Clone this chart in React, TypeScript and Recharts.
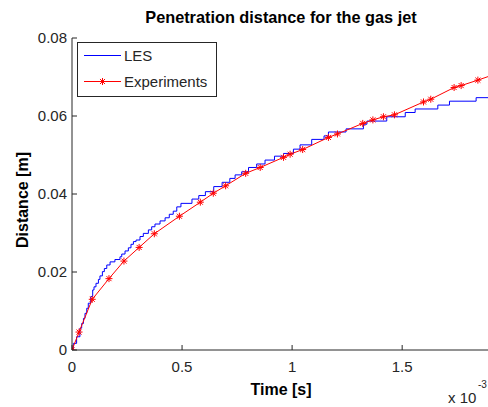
import React from "react";
import { LineChart, Line, XAxis, YAxis } from "recharts";

// time in units of 1e-3 s (axis shows "x 10^-3"), distance in m
const lesTime = [
  0, 0.006, 0.021, 0.036, 0.044, 0.052, 0.059, 0.067, 0.074, 0.085, 0.094, 0.1,
  0.109, 0.12, 0.127, 0.138, 0.147, 0.158, 0.173, 0.195, 0.218, 0.226, 0.241,
  0.256, 0.268, 0.279, 0.291, 0.309, 0.324, 0.347, 0.362, 0.377, 0.4, 0.423,
  0.442, 0.46, 0.476, 0.495, 0.545, 0.576, 0.606, 0.644, 0.682, 0.717, 0.741,
  0.771, 0.802, 0.839, 0.877, 0.92, 0.961, 1.006, 1.036, 1.089, 1.145, 1.165,
  1.245, 1.324, 1.34, 1.43, 1.514, 1.559, 1.662, 1.715, 1.836, 1.89,
];
const lesDist = [
  0, 0.0017, 0.0034, 0.0056, 0.0068, 0.0081, 0.0094, 0.0107, 0.012, 0.0137,
  0.0154, 0.0162, 0.0171, 0.0181, 0.019, 0.0201, 0.0209, 0.0218, 0.0226, 0.0232,
  0.0239, 0.0246, 0.0254, 0.0262, 0.0271, 0.0278, 0.0282, 0.0291, 0.0299,
  0.0308, 0.0316, 0.0323, 0.0331, 0.0339, 0.0348, 0.0356, 0.0367, 0.0376,
  0.0387, 0.0396, 0.0406, 0.0419, 0.043, 0.044, 0.0449, 0.0457, 0.0468, 0.0477,
  0.0487, 0.0497, 0.0504, 0.0515, 0.0526, 0.054, 0.0549, 0.0559, 0.0567, 0.0579,
  0.0587, 0.0598, 0.0609, 0.0618, 0.0628, 0.0638, 0.0647, 0.0647,
];

const expTime = [
  0, 0.032, 0.092, 0.168, 0.236, 0.305, 0.374, 0.488, 0.583, 0.642, 0.698,
  0.789, 0.855, 0.961, 0.991, 1.048, 1.165, 1.206, 1.321, 1.367, 1.415, 1.465,
  1.597, 1.63, 1.736, 1.768, 1.844, 1.89,
];
const expDist = [
  0, 0.0046, 0.013, 0.0183, 0.0228, 0.0263, 0.0298, 0.0343, 0.0379, 0.0402,
  0.0421, 0.0453, 0.0468, 0.0494, 0.0502, 0.0514, 0.0545, 0.0554, 0.0581, 0.059,
  0.0598, 0.0603, 0.0636, 0.0643, 0.0673, 0.0678, 0.0692, 0.0701,
];
// last experiment sample sits on the clipped right edge, no marker there
const expMarked = expTime.length - 1;

const xTicks = [0, 0.5, 1, 1.5];
const xTickLabels = ["0", "0.5", "1", "1.5"];
const yTicks = [0, 0.02, 0.04, 0.06, 0.08];
const yTickLabels = ["0", "0.02", "0.04", "0.06", "0.08"];

const lesData = lesTime.map((t, i) => ({ t, d: lesDist[i] }));
const expData = expTime.map((t, i) => ({ t, d: expDist[i] }));

const FONT = "'Liberation Sans', Arial, Helvetica, sans-serif";
const INK = "#262626";

function Asterisk({ cx, cy, r = 3.5 }: { cx: number; cy: number; r?: number }) {
  const d = r * 0.72;
  return (
    <g stroke="#ff0000" strokeWidth={1}>
      <line x1={cx - r} y1={cy} x2={cx + r} y2={cy} />
      <line x1={cx} y1={cy - r} x2={cx} y2={cy + r} />
      <line x1={cx - d} y1={cy - d} x2={cx + d} y2={cy + d} />
      <line x1={cx - d} y1={cy + d} x2={cx + d} y2={cy - d} />
    </g>
  );
}

function YTick(props: any) {
  const { x, y, index } = props;
  return (
    <g>
      <line x1={x} y1={y} x2={x + 5} y2={y} stroke={INK} />
      <text x={x - 5} y={y + 5} textAnchor="end" fontSize={15} fill={INK} fontFamily={FONT}>
        {yTickLabels[index]}
      </text>
    </g>
  );
}

function XTick(props: any) {
  const { x, y, index } = props;
  return (
    <g>
      <line x1={x} y1={y} x2={x} y2={y - 5} stroke={INK} />
      <text x={x} y={y + 22} textAnchor="middle" fontSize={15} fill={INK} fontFamily={FONT}>
        {xTickLabels[index]}
      </text>
    </g>
  );
}

export default function App() {
  return (
    <div style={{ position: "absolute", left: 0, top: 0, width: 488, height: 407, overflow: "hidden", background: "#fff" }}>
      <LineChart width={488} height={407} margin={{ top: 38, right: 0, bottom: 0, left: 0 }}>
        <XAxis
          type="number"
          dataKey="t"
          domain={[0, 1.89]}
          ticks={xTicks}
          height={57}
          tickSize={0}
          tickMargin={0}
          tickLine={false}
          tick={<XTick />}
          axisLine={{ stroke: INK }}
          allowDataOverflow
        />
        <YAxis
          type="number"
          dataKey="d"
          domain={[0, 0.08]}
          ticks={yTicks}
          width={72}
          tickSize={0}
          tickMargin={0}
          tickLine={false}
          tick={<YTick />}
          axisLine={{ stroke: INK }}
          allowDataOverflow
        />
        <Line
          data={lesData}
          dataKey="d"
          type="stepAfter"
          stroke="#0000ff"
          strokeWidth={1}
          dot={false}
          isAnimationActive={false}
        />
        <Line
          data={expData}
          dataKey="d"
          type="linear"
          stroke="#ff0000"
          strokeWidth={1}
          dot={(p: any) =>
            p.index < expMarked ? (
              <Asterisk key={`m${p.index}`} cx={p.cx} cy={p.cy} />
            ) : (
              <g key={`m${p.index}`} />
            )
          }
          isAnimationActive={false}
        />
      </LineChart>
      <svg width={488} height={407} style={{ position: "absolute", left: 0, top: 0, pointerEvents: "none" }}>
        <text x={281} y={23} textAnchor="middle" fontSize={16.3} fontWeight="bold" fill="#000" fontFamily={FONT}>
          Penetration distance for the gas jet
        </text>
        <text x={281} y={395} textAnchor="middle" fontSize={16} fontWeight="bold" fill="#000" fontFamily={FONT}>
          Time [s]
        </text>
        <text
          x={28}
          y={200}
          textAnchor="middle"
          fontSize={16}
          fontWeight="bold"
          fill="#000"
          fontFamily={FONT}
          transform="rotate(-90 28 200)"
        >
          Distance [m]
        </text>
        <text x={448} y={403} fontSize={15} fill={INK} fontFamily={FONT}>
          x 10
        </text>
        <text x={478} y={388} fontSize={10} fill={INK} fontFamily={FONT}>
          -3
        </text>
        <g>
          <rect x={77.5} y={42.5} width={139} height={54} fill="#fff" stroke={INK} />
          <line x1={84} y1={55.5} x2={121} y2={55.5} stroke="#0000ff" />
          <text x={124} y={61} fontSize={15} fill={INK} fontFamily={FONT}>
            LES
          </text>
          <line x1={84} y1={81.5} x2={121} y2={81.5} stroke="#ff0000" />
          <Asterisk cx={102.5} cy={81.5} />
          <text x={124} y={87} fontSize={15} fill={INK} fontFamily={FONT}>
            Experiments
          </text>
        </g>
      </svg>
    </div>
  );
}
